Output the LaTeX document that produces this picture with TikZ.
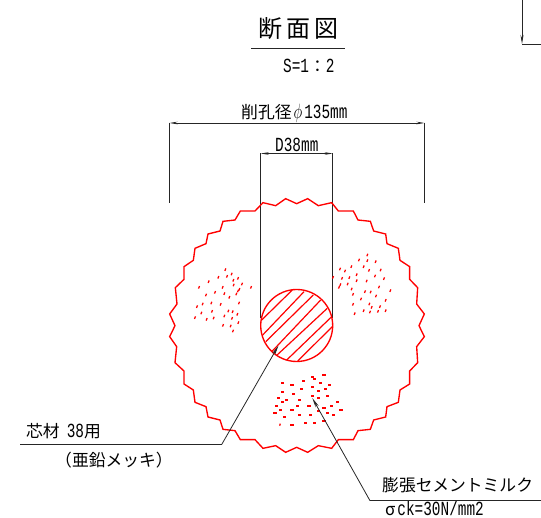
\documentclass[tikz,border=0pt]{standalone}
\usepackage{fontspec}
\usepackage{graphicx}
\usetikzlibrary{arrows.meta}
\setmainfont{Liberation Sans}
\newfontfamily\cjkf{Noto Sans CJK JP}
\newfontfamily\monof{Liberation Mono}
\newcommand\jp[1]{{\fontsize{16.8}{18}\selectfont\cjkf #1}}
\newcommand\lat[1]{\scalebox{.72}[1]{\fontsize{20}{22}\selectfont\monof #1}}
\tikzset{
  x=1pt,y=-1pt,
  ink/.style={draw=black!85,line width=.8pt},
  dimline/.style={ink,{Stealth[length=8pt,width=2.6pt]}-{Stealth[length=8pt,width=2.6pt]}},
  leader/.style={ink,-{Stealth[length=10pt,width=3.4pt]}},
  redline/.style={draw=red,line width=1.35pt,line join=miter},
  label/.style={inner sep=0pt,anchor=west,text=black},
  speck/.style={draw=red,line width=1.25pt}
}
\newcommand\vspeck[1]{\foreach \p/\q in {#1}{\draw[speck] (\p-1.5,\q+3.8) -- (\p+1.5,\q-3.8);}}
\newcommand\hspeck[1]{\foreach \p/\q in {#1}{\fill[red] (\p-5,\q-3) rectangle (\p+5,\q+3);}}
\begin{document}
\begin{tikzpicture}
\useasboundingbox (0,0) rectangle (541,518);
% text
\node[label] (title) at (258.5,28.5) {\fontsize{24}{26}\selectfont\cjkf 断\hspace{4pt}面\hspace{4pt}図};
\node[label] (scale) at (283,66) {\lat{S=1}\jp{：}\lat{2}};
\node[label] (dia) at (241,113.5) {\jp{削孔径}\hspace{2pt}\lat{$\phi$}\hspace{2pt}\lat{135mm}};
\node[label] (dsm) at (275,145) {\lat{D38mm}};
\node[label] (core) at (26,431) {\jp{芯材}\hspace{7pt}\lat{38}\jp{用}};
\node[label] (zinc) at (55,460) {\jp{（亜鉛メッキ）}};
\node[label] (grout) at (382,485.5) {\jp{膨張セメントミルク}};
\node[label] (sigma) at (385,508.5) {\jp{σ}\hspace{2pt}\lat{ck=30N/mm2}};
% title rule
\coordinate (ta) at (251,48.7); \coordinate (tb) at (345,48.7);
\draw[ink] (ta) -- (tb);
% top-right fragment
\coordinate (ca) at (522,0); \coordinate (cb) at (522,44); \coordinate (cc) at (541,44);
\draw[ink,-{Stealth[length=9pt,width=3pt]}] (ca) -- (cb);
\draw[ink] (cb) -- (cc);
% dimensions
\coordinate (o1) at (169.5,123); \coordinate (o2) at (424.5,123);
\coordinate (o1b) at (169.5,203); \coordinate (o2b) at (424.5,203);
\draw[ink] (o1) -- (o1b); \draw[ink] (o2) -- (o2b);
\draw[dimline] (o1) -- (o2);
\coordinate (i1) at (260.7,153.5); \coordinate (i2) at (332.7,153.5);
\coordinate (i1b) at (260.7,318); \coordinate (i2b) at (332.7,318);
\draw[ink] (i1) -- (i1b); \draw[ink] (i2) -- (i2b);
\draw[dimline] (i1) -- (i2);
% outline
\begin{scope}[shift={(160,190)},x=.33333pt,y=-.33333pt]
\draw[redline] (410,41)--(443,26)--(475,47)--(515,38)--(535,63)--(580,63)--(594,90)--(631,94)--(641,123)--(677,132)--(681,161)--(715,175)--(720,211)--(749,230)--(749,268)--(773,293)--(770,342)--(793,372)--(777,407)--(793,440)
--(770,470)--(773,518)--(749,543)--(749,582)--(720,600)--(715,637)--(681,650)--(677,681)--(641,690)--(631,718)--(594,722)--(580,749)--(535,749)--(515,775)--(475,767)--(443,787)--(410,772)--(377,787)--(347,767)--(309,775)--(285,749)--(241,749)--(225,722)--(189,718)--(180,690)--(144,681)--(138,650)--(105,637)--(100,600)--(72,582)--(72,543)--(45,518)--(50,470)--(29,440)--(45,407)--(29,372)--(51,342)--(46,293)--(72,268)--(72,230)--(100,211)--(105,175)--(138,161)--(144,132)--(180,123)--(189,94)--(225,90)--(241,63)--(285,63)--(309,38)--(347,47)--(377,26)--cycle;
\vspeck{196/239,146/275,175/262,201/259,215/252,220/271,234/265,246/282,221/285,188/292,117/292,273/292,238/298,234/303,229/312,193/311,165/307,138/315,208/322,128/342,111/350,154/339,182/343,237/339,156/364,124/369,205/363,193/378,218/365,232/373,216/385,140/388,161/384,105/383,235/398,189/406,212/408,219/423}
\vspeck{622/195,597/210,622/212,647/215,574/230,611/230,540/237,555/243,627/241,662/240,519/262,546/265,568/263,590/254,645/258,672/266,563/282,590/272,620/273,541/284,537/292,575/297,657/291,579/313,615/305,632/306,691/302,648/318,603/327,677/331,579/343,628/342,635/352,660/350,584/371,611/362,630/366,654/364,677/362}
\end{scope}
\begin{scope}[shift={(160,330)},x=.33333pt,y=-.33333pt]
\hspeck{457/142,492/136,464/148,368/159,396/165,430/154,481/159,509/165,458/171,424/177,497/177,475/182,368/187,401/193,503/199,458/199,475/205,356/205,379/210,367/216,418/210,532/216,350/228,413/228,447/228,515/228,492/233,362/239,396/239,543/239,475/244,345/250,503/250,520/256,418/256,452/256,373/261,492/273,436/279,464/279,396/284}
\draw[speck] (359,287) -- (361,281);
\end{scope}
% core bar
\coordinate (cen) at (296.7,325.5);
\begin{scope}
\clip (cen) circle (36);
\foreach \ax/\ay/\bx/\by in {261.7/320/292.3/290,262.7/335/304/291.7,265.7/341.7/313.3/295,271.7/351.7/320.7/300,276/356/327.3/308.3,286.7/360/331.7/316.7,297.7/361/332.3/326.7}
  \draw[draw=red,line width=1.2pt] (\ax,\ay) -- (\bx,\by);
\end{scope}
\draw[redline] (cen) circle (36);
% leaders
\coordinate (la) at (20,444.5); \coordinate (lb) at (221.7,444.5); \coordinate (lc) at (278.5,345.5);
\draw[ink] (la) -- (lb);
\draw[leader] (lb) -- (lc);
\coordinate (ra) at (541,500.7); \coordinate (rb) at (370,500.7); \coordinate (rc) at (312.3,398);
\draw[ink] (ra) -- (rb);
\draw[leader] (rb) -- (rc);
\end{tikzpicture}
\end{document}
